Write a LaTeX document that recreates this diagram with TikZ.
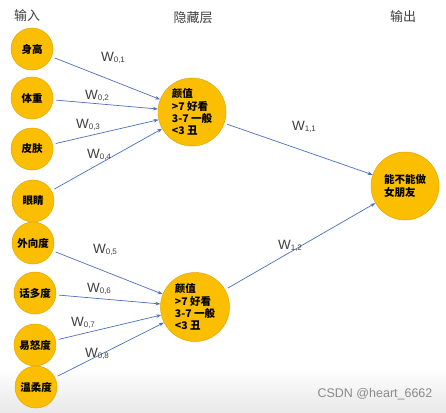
\documentclass[tikz,border=0pt]{standalone}
\usepackage{fontspec}
\setmainfont{Noto Sans CJK SC}
\setsansfont{Liberation Sans}
\usetikzlibrary{arrows.meta}
\definecolor{nodegold}{HTML}{FBBE00}
\definecolor{nodeedge}{HTML}{E2A700}
\definecolor{linkblue}{HTML}{4A70BE}
\definecolor{txtgray}{HTML}{404040}
\definecolor{markgray}{HTML}{8A8A8A}
\newcommand{\wgt}[1]{W\raisebox{-0.6pt}{\fontsize{8}{8}\selectfont #1}}

\begin{document}
\begin{tikzpicture}[
    x=1pt, y=-1pt,
    >={Stealth[length=5pt, width=3.5pt]},
    neuron/.style={circle, fill=nodegold, draw=nodeedge, line width=0.5pt,
        inner sep=0pt, text=black, align=left,
        font=\bfseries\fontsize{10.5}{12.2}\selectfont},
    innode/.style={neuron, minimum size=42pt},
    hidnode/.style={neuron, minimum size=68pt},
    link/.style={->, linkblue, line width=0.7pt, shorten <=3pt},
    wlabel/.style={text=txtgray, font=\sffamily\fontsize{13.5}{14}\selectfont},
    header/.style={text=txtgray, font=\fontsize{13}{14}\selectfont},
]

% page and bottom band of the screenshot
\fill[white] (0,0) rectangle (446,412);
\shade[top color=white, bottom color=black!9] (0,368) rectangle (446,412);
\useasboundingbox (0,0) rectangle (446,412);

% layer titles
\node[header] (tin)  at (27,16)  {输入};
\node[header] (thid) at (193,18) {隐藏层};
\node[header] (tout) at (403,17) {输出};

% input layer
\node[innode] (in1) at (32,49)  {身高};
\node[innode] (in2) at (32,98)  {体重};
\node[innode] (in3) at (32,149) {皮肤};
\node[innode] (in4) at (33,201) {眼睛};
\node[innode] (in5) at (33,243) {外向度};
\node[innode] (in6) at (35,293) {话多度};
\node[innode] (in7) at (35,345) {易怒度};
\node[innode] (in8) at (36,387) {温柔度};

% hidden layer
\node[hidnode] (hid1) at (192,112) {颜值\\>7 好看\\3-7 一般\\<3 丑};
\node[hidnode, minimum size=69pt] (hid2) at (195,307) {颜值\\>7 好看\\3-7 一般\\<3 丑};

% output layer
\node[hidnode] (out) at (405,186) {能不能做\\女朋友};

% connections, first group
\draw[link] (in1) -- (hid1);
\draw[link] (in2) -- (hid1);
\draw[link] (in3) -- (hid1);
\draw[link] (in4) -- (hid1);

% connections, second group
\draw[link] (in5) -- (hid2);
\draw[link] (in6) -- (hid2);
\draw[link] (in7) -- (hid2);
\draw[link] (in8) -- (hid2);

% hidden to output
\draw[link] (hid1) -- (out);
\draw[link] (hid2) -- (out);

% weights
\node[wlabel] (w01) at (113,58)  {\wgt{0,1}};
\node[wlabel] (w02) at (97,96)   {\wgt{0,2}};
\node[wlabel] (w03) at (88,125)  {\wgt{0,3}};
\node[wlabel] (w04) at (99,155)  {\wgt{0,4}};
\node[wlabel] (w05) at (105,250) {\wgt{0,5}};
\node[wlabel] (w06) at (99,289)  {\wgt{0,6}};
\node[wlabel] (w07) at (83,323)  {\wgt{0,7}};
\node[wlabel] (w08) at (97,354)  {\wgt{0,8}};
\node[wlabel] (w11) at (304,127) {\wgt{1,1}};
\node[wlabel] (w12) at (290,246) {\wgt{1,2}};

% watermark
\node[text=markgray, font=\sffamily\fontsize{12.5}{13}\selectfont] (mark) at (375,394) {CSDN @heart\_6662};

\end{tikzpicture}
\end{document}
